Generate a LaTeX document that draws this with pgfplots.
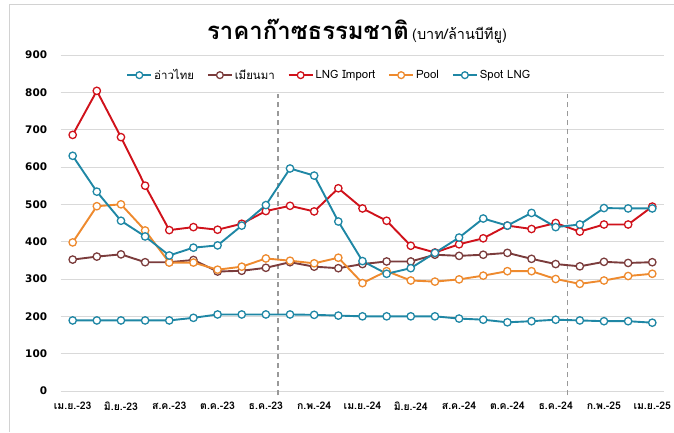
\documentclass[border=0pt]{standalone}
\usepackage{fontspec}
\setmainfont{Loma}[Script=Thai]
\newfontfamily\numfont{DejaVu Sans}
\usepackage{pgfplots}
\usepackage{pgfplotstable}
\pgfplotsset{compat=1.18}
\definecolor{cteal}{HTML}{1F87A5}
\definecolor{cbrown}{HTML}{7B3C3C}
\definecolor{cred}{HTML}{D0121B}
\definecolor{corange}{HTML}{EE8A2E}
\definecolor{cspot}{HTML}{1F87A5}
\definecolor{cgrid}{HTML}{D9D9D9}
\pgfplotstableread{
x gulf myan lng pool spot
0 189 352 686 398 630
1 189 360 804 495 534
2 189 366 680 500 456
3 189 345 550 430 414
4 189 345 431 344 363
5 196 351 439 344 384
6 205 320 432 325 390
7 205 322 448 333 443
8 205 330 482 355 498
9 205 345 496 349 596
10 204 333 481 342 577
11 202 329 543 357 454
12 200 340 489 289 348
13 200 347 456 321 314
14 200 347 389 296 329
15 200 365 371 293 370
16 194 362 393 299 411
17 191 365 409 309 462
18 184 370 443 321 443
19 187 354 434 321 477
20 191 340 450 300 439
21 189 334 427 287 446
22 187 346 446 296 490
23 187 343 446 308 489
24 183 345 494 314 489
}\datatable
\begin{document}
\begin{tikzpicture}[x=1bp,y=1bp]
\useasboundingbox (0,0) rectangle (674,432);
\draw[gray!35, line width=0.8bp] (9,0) -- (9,428) -- (674,428);
\node[anchor=base, inner sep=0] at (357,392) {{\fontsize{24}{27}\selectfont\bfseries ราคาก๊าซธรรมชาติ}\ {\fontsize{14.5}{17}\selectfont (บาท/ล้านบีทียู)}};
\begin{axis}[
  at={(60.6bp,41bp)}, anchor=south west,
  scale only axis, width=603.75bp, height=336bp,
  xmin=-0.5, xmax=24.5, ymin=0, ymax=900,
  axis line style={draw=none},
  ytick={0,100,...,900},
  xtick={0,2,...,24},
  xticklabels={เม.ย.-23,มิ.ย.-23,ส.ค.-23,ต.ค.-23,ธ.ค.-23,ก.พ.-24,เม.ย.-24,มิ.ย.-24,ส.ค.-24,ต.ค.-24,ธ.ค.-24,ก.พ.-25,เม.ย.-25},
  major tick length=0,
  ymajorgrids, grid style={cgrid, line width=1bp},
  y tick label style={font=\numfont\fontsize{10.5}{12}\selectfont\bfseries, anchor=east, xshift=-10bp},
  x tick label style={font=\fontsize{10.5}{12}\selectfont\bfseries, anchor=north, yshift=-7bp},
  /pgf/number format/assume math mode=true,
  clip=false,
  every axis plot/.append style={line width=1.9bp, mark=*, mark size=3.7bp, mark options={fill=white, line width=1.3bp}},
  legend style={at={(0.445,0.94)}, anchor=center, draw=none, fill=none, font=\fontsize{11.5}{13}\selectfont, legend columns=5, /tikz/every even column/.append style={column sep=11bp}},
  legend image code/.code={\draw[#1, line width=1.8bp] (0bp,0bp) -- (24bp,0bp); \draw[#1, fill=white, line width=1.3bp] (12bp,0bp) circle (3.4bp);},
]
\draw[gray!80, dashed, line width=1.3bp, dash pattern=on 5bp off 4bp] (axis cs:8.5,-12) -- (axis cs:8.5,795);
\draw[gray!80, dashed, line width=1.3bp, dash pattern=on 5bp off 4bp] (axis cs:20.5,-12) -- (axis cs:20.5,795);
\addplot[cteal] table[x=x,y=gulf] {\datatable};
\addlegendentry{อ่าวไทย}
\addplot[cbrown] table[x=x,y=myan] {\datatable};
\addlegendentry{เมียนมา}
\addplot[cred] table[x=x,y=lng] {\datatable};
\addlegendentry{LNG Import}
\addplot[corange] table[x=x,y=pool] {\datatable};
\addlegendentry{Pool}
\addplot[cspot] table[x=x,y=spot] {\datatable};
\addlegendentry{Spot LNG}
\end{axis}
\end{tikzpicture}
\end{document}
